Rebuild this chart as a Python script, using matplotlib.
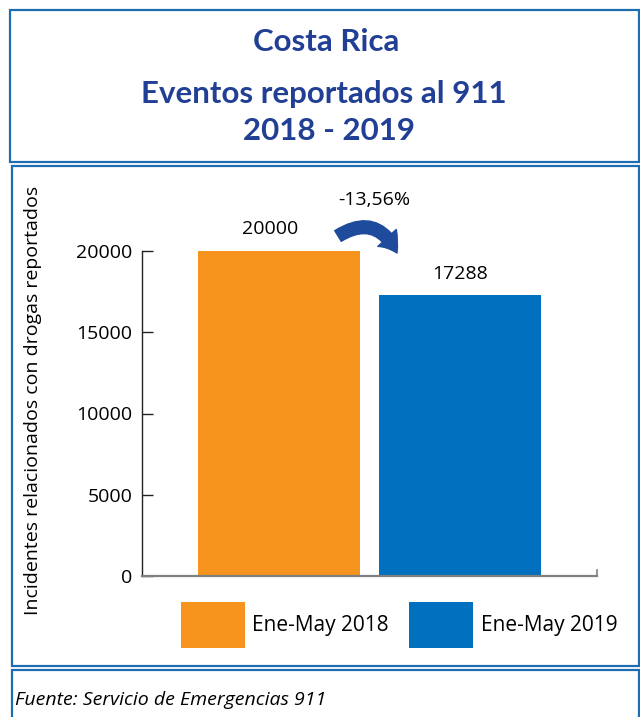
import matplotlib
matplotlib.use("Agg")
import matplotlib.pyplot as plt
from matplotlib.patches import Rectangle, FancyArrowPatch, Patch

# ---- data ----
categories = ["Ene-May 2018", "Ene-May 2019"]
values = [20000, 17288]
bar_colors = ["#F7941D", "#0070BF"]
value_labels = ["20000", "17288"]
change_label = "-13,56%"
yticks = [0, 5000, 10000, 15000, 20000]
title_lines = ["Costa Rica", "Eventos reportados al 911", "2018 - 2019"]
ylabel = "Incidentes relacionados con drogas reportados"
source = "Fuente: Servicio de Emergencias 911"

W, H = 640, 717
fig = plt.figure(figsize=(W / 100, H / 100), dpi=100)
fig.patch.set_facecolor("white")

def fx(px):
    return px / W

def fy(py):
    return 1 - py / H

border_col = "#1F6DB1"
title_col = "#213F94"
body_font = ["Open Sans", "DejaVu Sans"]

# frames
for (x0, y0, x1, y1) in [(10, 10, 639, 162), (12, 166, 639, 666), (12, 670, 639, 725)]:
    fig.add_artist(Rectangle((fx(x0), fy(y1)), fx(x1) - fx(x0), fy(y0) - fy(y1),
                             transform=fig.transFigure, fill=False,
                             edgecolor=border_col, linewidth=1.6, clip_on=False))

# title
tfont = dict(family=["Lato", "DejaVu Sans"], fontweight="bold", color=title_col, ha="center", va="center")
fig.text(fx(326), fy(42), title_lines[0], fontsize=22.5, **tfont)
fig.text(fx(324), fy(94), title_lines[1], fontsize=22.5, **tfont)
fig.text(fx(329), fy(131), title_lines[2], fontsize=22.5, **tfont)

# axes
ax = fig.add_axes([fx(142), fy(576), fx(597) - fx(142), fy(251) - fy(576)])
x = [0, 1]
ax.bar(x, values, width=0.895, color=bar_colors, zorder=2)
ax.set_xlim(-0.757, 1.757)
ax.set_ylim(0, 20000)
ax.set_yticks(yticks)
ax.set_yticklabels([str(v) for v in yticks], fontsize=14, family=body_font)
ax.set_xticks([])
ax.tick_params(axis="y", direction="in", length=8, width=1, color="#222222", pad=7)
for s in ["top", "right"]:
    ax.spines[s].set_visible(False)
ax.spines["left"].set_color("#222222")
ax.spines["left"].set_linewidth(1)
ax.spines["bottom"].set_color("#808080")
ax.spines["bottom"].set_linewidth(1.6)
ax.spines["bottom"].set_zorder(3)
# small end tick on x axis
ax.plot([1.757, 1.757], [0, 400], color="#808080", lw=1.2, clip_on=False)

ax.set_ylabel(ylabel, fontsize=14, family=body_font)
ax.yaxis.set_label_coords(-(142 - 42) / 455, 0.5 - (400 - 413.5) / 325)

# value labels
for xi, v, lab in zip(x, values, value_labels):
    ax.annotate(lab, (xi - 0.05 if xi == 0 else xi, v), xytext=(0, 9), textcoords="offset points",
                ha="center", va="bottom", fontsize=14, family=body_font)

# change arrow + label
arrow = FancyArrowPatch(posA=((338 - 279) / 181, (576 - 236) / 0.01625),
                        posB=((397 - 279) / 181, (576 - 253) / 0.01625),
                        connectionstyle="arc3,rad=-0.55",
                        arrowstyle="simple,head_length=13,head_width=18,tail_width=9",
                        color="#1E4B9B", clip_on=False, zorder=5, shrinkA=0, shrinkB=0)
ax.add_patch(arrow)
ax.text((374 - 279) / 181, (576 - 200) / 0.01625, change_label, ha="center", va="center",
        fontsize=14, family=body_font)

# legend
handles = [Patch(facecolor=c, edgecolor="none") for c in bar_colors]
leg = fig.legend(handles, categories, loc="center", bbox_to_anchor=(fx(399), fy(625)),
                 bbox_transform=fig.transFigure, ncol=2, frameon=False,
                 prop=dict(family=body_font, size=15),
                 handlelength=3.07, handleheight=2.95, handletextpad=0.35, columnspacing=1.0,
                 borderpad=0)

# source
fig.text(fx(15), fy(700), source, fontsize=14, style="italic",
         family=body_font, ha="left", va="center")

fig.savefig("out.png", dpi=100)
